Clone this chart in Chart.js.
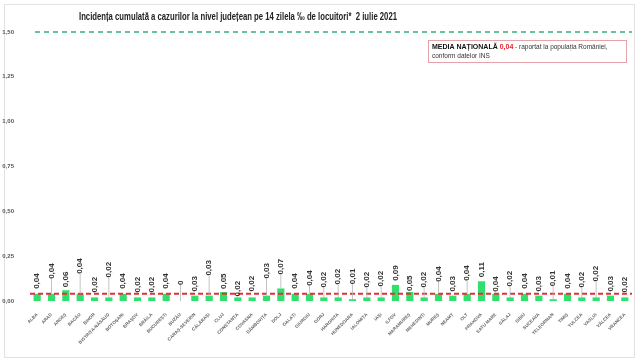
<!DOCTYPE html>
<html>
<head>
<meta charset="utf-8">
<script src="https://cdn.jsdelivr.net/npm/chart.js@4"></script>
<style>
  body { margin: 0; background: #fff; }
  #wrap { width: 640px; height: 363px; }
</style>
</head>
<body>
<div id="wrap"><canvas id="myChart"></canvas></div>
<script>
// judete, ordine alfabetica
const judete = ['ALBA', 'ARAD', 'ARGEȘ', 'BACĂU', 'BIHOR', 'BISTRIȚA-NĂSĂUD', 'BOTOȘANI', 'BRAȘOV', 'BRĂILA', 'BUCUREȘTI',
  'BUZĂU', 'CARAȘ-SEVERIN', 'CĂLĂRAȘI', 'CLUJ', 'CONSTANȚA', 'COVASNA', 'DÂMBOVIȚA', 'DOLJ', 'GALAȚI', 'GIURGIU',
  'GORJ', 'HARGHITA', 'HUNEDOARA', 'IALOMIȚA', 'IAȘI', 'ILFOV', 'MARAMUREȘ', 'MEHEDINȚI', 'MUREȘ', 'NEAMȚ',
  'OLT', 'PRAHOVA', 'SATU MARE', 'SĂLAJ', 'SIBIU', 'SUCEAVA', 'TELEORMAN', 'TIMIȘ', 'TULCEA', 'VASLUI',
  'VÂLCEA', 'VRANCEA'];

// incidenta la 14 zile, la mia de locuitori
const incidenta = [0.04, 0.04, 0.06, 0.04, 0.02, 0.02, 0.04, 0.02, 0.02, 0.04,
  0, 0.03, 0.03, 0.05, 0.02, 0.02, 0.03, 0.07, 0.04, 0.04,
  0.02, 0.02, 0.01, 0.02, 0.02, 0.09, 0.05, 0.02, 0.04, 0.03,
  0.04, 0.11, 0.04, 0.02, 0.04, 0.03, 0.01, 0.04, 0.02, 0.02,
  0.03, 0.02];

const yTicks = [0, 0.25, 0.5, 0.75, 1.0, 1.25, 1.5];
const pragMax = 1.5;      // linia verde
const mediaNationala = 0.04;

// cat de sus stau etichetele peste bara (px), ca in Excel
const labelLift = [4, 14, 2, 19, 4, 19, 4, 4, 4, 4,
  15, 3, 19, 2, 0, 5, 16, 13, 4, 7,
  9, 12, 14, 9, 10, 3, 0, 9, 11, 3,
  12, 3, 1, 10, 4, 3, 12, 4, 9, 15,
  3, 4];

const fmt = v => v === 0 ? '0' : v.toFixed(2).replace('.', ',');

const extras = {
  id: 'extras',
  beforeDraw(chart) {
    const c = chart.ctx;
    c.save();
    c.fillStyle = '#fff';
    c.fillRect(0, 0, chart.width, chart.height);
    c.strokeStyle = '#e2e2e2';
    c.lineWidth = 1;
    c.strokeRect(4.5, 4.5, 630, 353);
    c.restore();
  },
  afterDatasetsDraw(chart) {
    const c = chart.ctx;
    const y = chart.scales.y;
    const area = chart.chartArea;
    c.save();

    // linia verde sus
    c.strokeStyle = '#3aae7a';
    c.lineWidth = 1.5;
    c.setLineDash([5, 4]);
    let py = y.getPixelForValue(pragMax);
    c.beginPath(); c.moveTo(area.left + 5, py); c.lineTo(area.right, py); c.stroke();

    // media nationala
    c.strokeStyle = '#e0303c';
    c.lineWidth = 2;
    c.setLineDash([5, 3]);
    py = y.getPixelForValue(mediaNationala);
    c.beginPath(); c.moveTo(area.left, py); c.lineTo(area.right, py); c.stroke();
    c.setLineDash([]);

    // etichete
    const meta = chart.getDatasetMeta(0);
    c.font = 'bold 8px "Liberation Sans"';
    meta.data.forEach((bar, i) => {
      const bottom = bar.y - 1 - labelLift[i];
      if (labelLift[i] > 5) {
        c.strokeStyle = '#b5b5b5';
        c.lineWidth = 0.8;
        c.beginPath(); c.moveTo(bar.x, bar.y); c.lineTo(bar.x, bottom); c.stroke();
      }
      c.save();
      c.translate(bar.x, bottom);
      c.rotate(-Math.PI / 2);
      c.fillStyle = '#333';
      c.textAlign = 'left';
      c.textBaseline = 'middle';
      c.fillText(fmt(incidenta[i]), 0, 0);
      c.restore();
    });

    // titlu
    c.fillStyle = '#222';
    c.font = 'bold 10px "Liberation Sans"';
    c.textAlign = 'center';
    c.textBaseline = 'middle';
    c.fillText('Incidența cumulată a cazurilor la nivel județean pe 14 zilela ‰ de locuitori*  2 iulie 2021', 238, 17, 318);

    // caseta media
    c.strokeStyle = '#e4a3a8';
    c.lineWidth = 1;
    c.strokeRect(428.5, 40.5, 198, 22);
    c.textAlign = 'left';
    c.textBaseline = 'middle';
    let x = 432;
    c.font = 'bold 7px "Liberation Sans"';
    c.fillStyle = '#111';
    c.fillText('MEDIA NAȚIONALĂ ', x, 47);
    x += c.measureText('MEDIA NAȚIONALĂ ').width;
    c.fillStyle = '#e8202a';
    c.fillText(fmt(mediaNationala), x, 47);
    x += c.measureText(fmt(mediaNationala)).width;
    c.font = '6.5px "Liberation Sans"';
    c.fillStyle = '#333';
    c.fillText(' - raportat la populația României,', x, 47, 619 - x);
    c.fillText('conform datelor INS', 432, 56);
    c.restore();
  }
};

var ctx = document.getElementById('myChart');
var myChart = new Chart(ctx, {
  type: 'bar',
  data: {
    labels: judete,
    datasets: [{
      data: incidenta,
      backgroundColor: '#2fe06c',
      borderWidth: 0,
      barPercentage: 0.5,
      categoryPercentage: 1
    }]
  },
  options: {
    responsive: true,
    maintainAspectRatio: false,
    animation: false,
    layout: { padding: { top: 32, right: 8, left: 0, bottom: 0 } },
    plugins: { legend: { display: false }, tooltip: { enabled: false } },
    scales: {
      x: {
        grid: { display: false },
        border: { display: false },
        ticks: {
          autoSkip: false,
          maxRotation: 45,
          minRotation: 45,
          padding: 3,
          color: '#666',
          font: { size: 4.5, family: 'Liberation Sans', weight: 'bold' }
        },
        afterFit: s => { s.height = 62; }
      },
      y: {
        min: 0,
        max: 1.5,
        grid: { display: false },
        border: { display: false },
        afterBuildTicks: s => { s.ticks = yTicks.map(v => ({ value: v })); },
        ticks: {
          color: '#555',
          padding: 8,
          font: { size: 6, family: 'Liberation Sans', weight: 'bold' },
          callback: v => v.toFixed(2).replace('.', ',')
        },
        afterFit: s => { s.width = 30; }
      }
    }
  },
  plugins: [extras]
});
</script>
</body>
</html>
